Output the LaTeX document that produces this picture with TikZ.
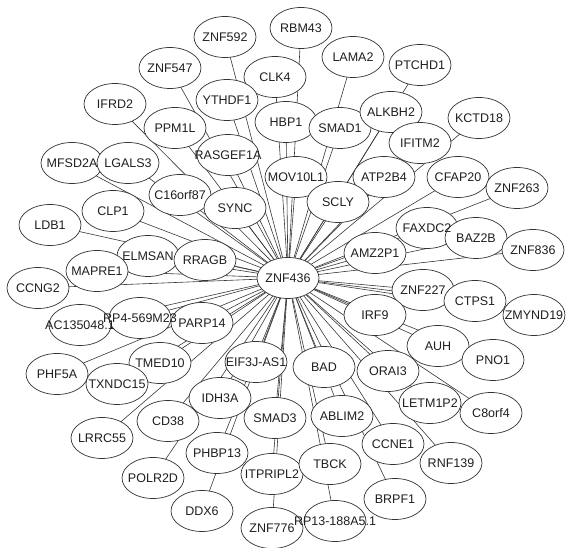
\documentclass[tikz,border=0pt]{standalone}
\usepackage{fontspec}
\setmainfont{Liberation Sans}
\usetikzlibrary{shapes.geometric,backgrounds}
\pgfdeclarelayer{labels}
\pgfsetlayers{background,main,labels}
\tikzset{
  gene/.style={ellipse, draw=black!80, line width=0.7pt, fill=white,
    minimum width=62pt, minimum height=41pt, inner sep=0pt},
  genelabel/.style={inner sep=0pt, font=\fontsize{12.5}{14}\selectfont, text=black!88},
  link/.style={draw=black!78, line width=0.6pt}
}
\newcommand{\gn}[3]{\node[gene] (#1) at (#2) {};
  \begin{pgfonlayer}{labels}\node[genelabel] (#1lab) at (#1.center) {#3};\end{pgfonlayer}}
\begin{document}
\begin{tikzpicture}[x=1pt,y=-1pt]
\useasboundingbox (0,0) rectangle (566,548);
\gn{ZNF436}{288,278}{ZNF436}
\gn{ZNF592}{225,37}{ZNF592}
\gn{RBM43}{301,28}{RBM43}
\gn{ZNF547}{170,68}{ZNF547}
\gn{CLK4}{275,77}{CLK4}
\gn{LAMA2}{353,57}{LAMA2}
\gn{PTCHD1}{420,65}{PTCHD1}
\gn{IFRD2}{115,104}{IFRD2}
\gn{YTHDF1}{227,100}{YTHDF1}
\gn{HBP1}{286,122}{HBP1}
\gn{SMAD1}{340,128}{SMAD1}
\gn{ALKBH2}{391,112}{ALKBH2}
\gn{KCTD18}{479,118}{KCTD18}
\gn{PPM1L}{175,128}{PPM1L}
\gn{IFITM2}{420,143}{IFITM2}
\gn{MFSD2A}{72,163}{MFSD2A}
\gn{LGALS3}{128,163}{LGALS3}
\gn{RASGEF1A}{228,155}{RASGEF1A}
\gn{MOV10L1}{296,177}{MOV10L1}
\gn{ATP2B4}{384,177}{ATP2B4}
\gn{CFAP20}{458,177}{CFAP20}
\gn{ZNF263}{517,188}{ZNF263}
\gn{C16orf87}{180,195}{C16orf87}
\gn{SYNC}{235,208}{SYNC}
\gn{SCLY}{338,202}{SCLY}
\gn{LDB1}{50,225}{LDB1}
\gn{CLP1}{113,211}{CLP1}
\gn{FAXDC2}{427,228}{FAXDC2}
\gn{BAZ2B}{476,238}{BAZ2B}
\gn{ZNF836}{533,250}{ZNF836}
\gn{ELMSAN}{148,256}{ELMSAN}
\gn{RRAGB}{205,260}{RRAGB}
\gn{AMZ2P1}{375,253}{AMZ2P1}
\gn{MAPRE1}{97,271}{MAPRE1}
\gn{CCNG2}{38,288}{CCNG2}
\gn{ZNF227}{423,290}{ZNF227}
\gn{CTPS1}{475,301}{CTPS1}
\gn{ZMYND19}{534,315}{ZMYND19}
\gn{AC135048}{80,325}{AC135048.1}
\gn{RP4569M23}{140,318}{RP4-569M23}
\gn{PARP14}{202,323}{PARP14}
\gn{IRF9}{375,315}{IRF9}
\gn{AUH}{438,346}{AUH}
\gn{PNO1}{493,360}{PNO1}
\gn{PHF5A}{57,374}{PHF5A}
\gn{TMED10}{160,363}{TMED10}
\gn{EIF3JAS1}{256,362}{EIF3J-AS1}
\gn{BAD}{324,367}{BAD}
\gn{ORAI3}{388,371}{ORAI3}
\gn{TXNDC15}{117,384}{TXNDC15}
\gn{IDH3A}{220,398}{IDH3A}
\gn{LETM1P2}{430,403}{LETM1P2}
\gn{C8orf4}{491,413}{C8orf4}
\gn{LRRC55}{102,438}{LRRC55}
\gn{CD38}{168,421}{CD38}
\gn{SMAD3}{275,418}{SMAD3}
\gn{ABLIM2}{342,416}{ABLIM2}
\gn{CCNE1}{393,444}{CCNE1}
\gn{RNF139}{451,463}{RNF139}
\gn{PHBP13}{217,453}{PHBP13}
\gn{POLR2D}{153,478}{POLR2D}
\gn{ITPRIPL2}{272,474}{ITPRIPL2}
\gn{TBCK}{330,464}{TBCK}
\gn{DDX6}{202,511}{DDX6}
\gn{BRPF1}{395,499}{BRPF1}
\gn{ZNF776}{272,528}{ZNF776}
\gn{RP13188A51}{335,521}{RP13-188A5.1}
\begin{scope}[on background layer]
\foreach \t in {ZNF592,RBM43,ZNF547,CLK4,LAMA2,PTCHD1,IFRD2,YTHDF1,HBP1,SMAD1,
  ALKBH2,KCTD18,PPM1L,IFITM2,MFSD2A,LGALS3,RASGEF1A,MOV10L1,ATP2B4,CFAP20,
  ZNF263,C16orf87,SYNC,SCLY,LDB1,CLP1,FAXDC2,BAZ2B,ZNF836,ELMSAN,RRAGB,AMZ2P1,
  MAPRE1,CCNG2,ZNF227,CTPS1,ZMYND19,AC135048,RP4569M23,PARP14,IRF9,AUH,PNO1,
  PHF5A,TMED10,EIF3JAS1,BAD,ORAI3,TXNDC15,IDH3A,LETM1P2,C8orf4,LRRC55,CD38,
  SMAD3,ABLIM2,CCNE1,RNF139,PHBP13,POLR2D,ITPRIPL2,TBCK,DDX6,BRPF1,ZNF776,
  RP13188A51}
  \draw[link] (ZNF436.center) -- (\t.center);
\end{scope}
\end{tikzpicture}
\end{document}
